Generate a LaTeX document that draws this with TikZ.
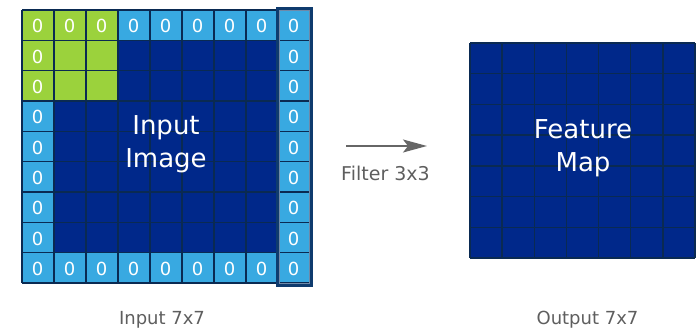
\documentclass[tikz,border=0pt]{standalone}
\usepackage{fontspec}
\setmainfont{DejaVu Sans}
\usetikzlibrary{arrows.meta}
\definecolor{navy}{HTML}{00288A}
\definecolor{lblue}{HTML}{38A9E1}
\definecolor{lgreen}{HTML}{9BD23C}
\definecolor{gline}{HTML}{0A2A52}
\definecolor{framec}{HTML}{0F3B6E}
\definecolor{txtgray}{HTML}{5E5E5E}
\definecolor{arrowgray}{HTML}{666666}
\begin{document}
\begin{tikzpicture}[x=1pt,y=-1pt,
  gridln/.style={draw=gline, line width=1.4pt},
  zero/.style={text=white, font=\fontsize{18}{18}\selectfont, inner sep=0pt},
  biglbl/.style={text=white, font=\fontsize{26}{33}\selectfont, align=center, inner sep=0pt},
  caption/.style={text=txtgray, font=\fontsize{18}{18}\selectfont, inner sep=0pt}]
\useasboundingbox (0,0) rectangle (699,329);
% ---- input grid ----
\fill[navy] (22,10) rectangle (310,283);
\fill[lblue] (22,10) rectangle (310,40.33);
\fill[lblue] (22,252.67) rectangle (310,283);
\fill[lblue] (22,10) rectangle (54,283);
\fill[lblue] (278,10) rectangle (310,283);
\fill[lgreen] (22,10) rectangle (118,101);
\foreach \i in {0,...,9} \draw[gridln] ({22+32*\i},10) -- ({22+32*\i},283);
\foreach \j in {0,...,9} \draw[gridln] (22,{10+30.333*\j}) -- (310,{10+30.333*\j});
\draw[framec, line width=3pt] (277,8.5) rectangle (311.5,285.5);
\draw[framec!60, line width=1pt] (279.5,11) rectangle (309,283);
\foreach \i in {0,...,8} {
  \node[zero] (zt\i) at ({37.5+32*\i},26.2) {0};
  \node[zero] (zb\i) at ({37.5+32*\i},268.8) {0};
}
\foreach \j in {1,...,7} {
  \node[zero] (zl\j) at (37.5,{26.2+30.333*\j}) {0};
  \node[zero] (zr\j) at (293.5,{26.2+30.333*\j}) {0};
}
\node[biglbl] (inimg) at (166,144) {Input\\Image};
% ---- feature map ----
\fill[navy] (470,43) rectangle (695,258);
\foreach \i in {0,...,7} \draw[gridln] ({470+32.143*\i},43) -- ({470+32.143*\i},258);
\foreach \j in {0,...,7} \draw[gridln] (470,{43+30.714*\j}) -- (695,{43+30.714*\j});
\node[biglbl] (fmap) at (583,148) {Feature\\Map};
% ---- arrow ----
\coordinate (aS) at (346,146);
\coordinate (aE) at (427,146);
\draw[arrowgray, line width=1.4pt, -{Stealth[length=24pt,width=13pt,inset=5pt]}] (aS) -- (aE);
\node[caption, font=\fontsize{19}{19}\selectfont] (filt) at (385.5,173) {Filter 3x3};
% ---- captions ----
\node[caption] (inlbl) at (162,320) {Input 7x7};
\node[caption] (outlbl) at (587.5,320) {Output 7x7};
\end{tikzpicture}
\end{document}
